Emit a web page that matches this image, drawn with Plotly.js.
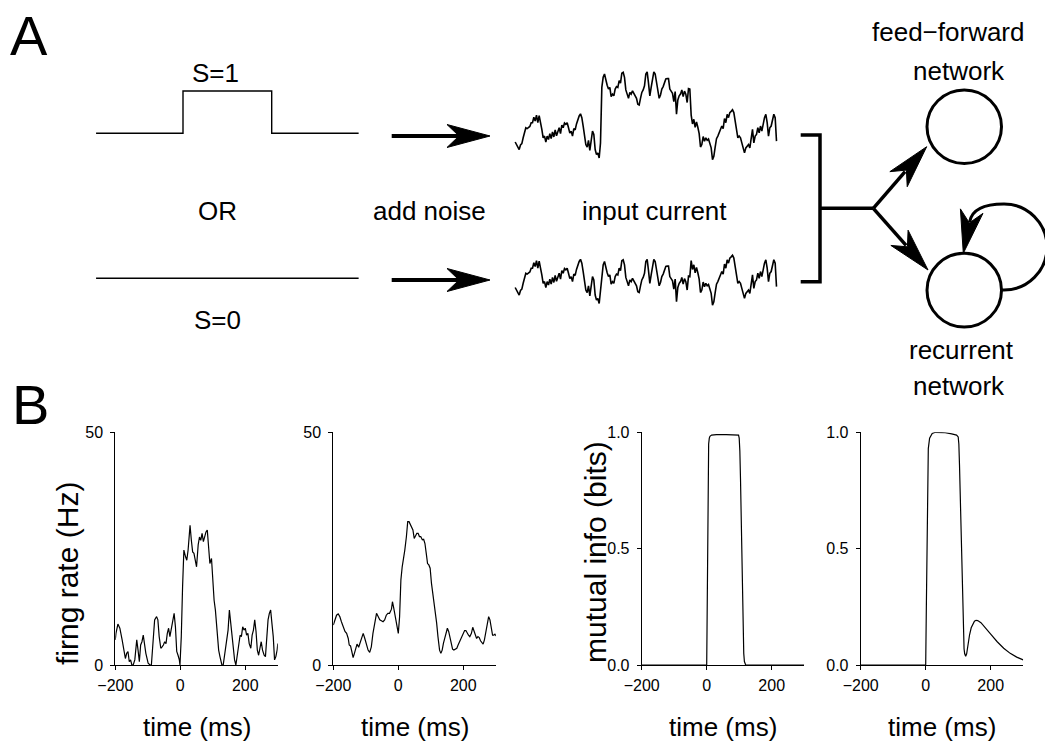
<!DOCTYPE html>
<html>
<head>
<meta charset="utf-8">
<script src="https://cdn.plot.ly/plotly-3.0.1.min.js"></script>
<style>
  html, body { margin: 0; padding: 0; background: #fff; }
  #fig { width: 1045px; height: 751px; }
</style>
</head>
<body>
<div id="fig"></div>
<script>
// ---------- data ----------
// stimulus: S=1 pulse from 0 to 100 ms, or S=0 throughout
const stimTime = [-98, 0, 0, 100, 100, 198];
const stimOn = [0, 0, 1, 1, 0, 0];
const stimOffTime = [-98, 198];
const stimOff = [0, 0];

// noise added to the stimulus (units of the pulse height), one sample every 1.51 ms from -98 ms
const noiseStart = -98;
const noiseStep = 1.51;
const noise = [
  -0.10, -0.16, -0.24, -0.28, -0.17, -0.14, 0.00, 0.14, 0.24, 0.22,
  0.25, 0.27, 0.36, 0.36, 0.49, 0.40, 0.54, 0.36, 0.53, 0.40,
  0.20, 0.00, 0.04, -0.10, 0.04, -0.04, 0.10, -0.02, 0.14, 0.02,
  0.19, 0.05, 0.16, 0.24, 0.10, 0.30, 0.24, 0.35, 0.32, 0.36,
  0.24, 0.11, 0.16, 0.04, 0.22, 0.19, 0.33, 0.44, 0.52, 0.57,
  0.48, 0.28, 0.04, -0.16, -0.22, -0.06, -0.30, 0.00, 0.16, 0.08,
  -0.28, -0.40, -0.36, -0.48, -0.12, 0.20, 0.44, 0.52, 0.36, 0.25,
  0.16, 0.20, -0.02, 0.04, 0.00, 0.16, 0.22, 0.20, 0.36, 0.30,
  0.54, 0.56, 0.44, 0.14, 0.04, -0.06, 0.08, 0.04, 0.12, 0.06,
  0.02, -0.06, -0.20, -0.22, -0.06, 0.08, 0.14, 0.24,
  0.52, 0.57, 0.30, 0.00, 0.20, 0.41, 0.57, 0.52, 0.32, 0.04,
  -0.06, 0.02, 0.16, 0.22, 0.32, 0.40, 0.41, 0.41, 0.16, 0.12,
  0.06, -0.14, 0.10, -0.44, -0.10, 0.00, 0.04, 0.14, -0.02, 0.11,
  0.04, -0.16, 0.17, 0.16, 0.54, 0.33, 0.44, 0.25, 0.38, 0.25,
  0.10, -0.22, -0.16, 0.03, -0.08, 0.00, -0.06, -0.03, -0.16, -0.24,
  -0.52, -0.44, -0.22, -0.02, 0.04, 0.14, 0.20, 0.28, 0.22, 0.46,
  0.36, 0.56, 0.48, 0.60, 0.63, 0.67, 0.60, 0.36, 0.12, 0.00,
  0.04, 0.00, -0.12, -0.24, -0.36, -0.24, -0.20, -0.16, -0.24, 0.04,
  0.20, -0.12, 0.04, 0.08, 0.24, 0.12, 0.28, 0.16, 0.36, 0.48,
  0.56, 0.36, 0.04, 0.24, 0.28, 0.44, 0.56, 0.48, -0.08
];

// firing rate (Hz), feed-forward network
const rateTimeFF = [
  -200, -198, -192, -186, -179, -173, -169, -165, -161, -157,
  -153, -149, -145, -140, -134, -130, -126, -122, -118, -114,
  -110, -106, -99, -93, -89, -85, -79, -73, -69, -65,
  -60, -56, -52, -48, -44, -40, -36, -32, -28, -24,
  -19, -15, -11, -7, -3, -1, 3, 7, 11, 16,
  20, 24, 28, 30, 34, 38, 42, 46, 50, 55,
  59, 63, 67, 71, 75, 79, 83, 87, 91, 96,
  100, 104, 108, 112, 118, 122, 128, 132, 139, 143,
  147, 151, 155, 159, 163, 167, 171, 176, 180, 184,
  188, 192, 196, 200, 204, 208, 212, 217, 221, 225,
  229, 233, 237, 241, 245, 249, 253, 258, 262, 266,
  270, 274, 278, 282, 286, 290, 294, 298, 300
];
const rateFF = [
  5.4, 6.8, 8.8, 7.9, 5.4, 2.9, 1.4, 2.5, 2.9, 0.7,
  1.1, 0, 0, 1.1, 5.4, 3.2, 0.7, 4.3, 5.0, 6.4,
  3.9, 2.5, 0.4, 0, 0, 3.9, 9.7, 10.4, 9.7, 6.1,
  3.6, 3.9, 4.3, 5.0, 4.6, 6.8, 7.9, 6.1, 7.5, 9.7,
  11.1, 8.2, 2.9, 2.1, 1.1, 0, 6.1, 16.8, 24.7, 23.3,
  22.5, 24.7, 28.3, 30.0, 26.8, 24.3, 24.0, 22.2, 21.1, 25.8,
  27.5, 26.8, 28.3, 26.5, 27.9, 28.6, 29.0, 24.3, 21.8, 22.9,
  18.2, 13.9, 11.8, 8.2, 3.2, 1.8, 0, 0, 3.6, 6.4,
  7.5, 11.8, 8.9, 5.4, 2.9, 1.1, 0, 2.1, 4.3, 6.4,
  6.1, 8.2, 7.5, 7.9, 6.4, 6.8, 4.6, 3.6, 6.4, 7.5,
  9.7, 7.2, 3.2, 2.1, 3.6, 5.0, 3.2, 2.1, 1.8, 6.1,
  9.7, 11.1, 11.8, 8.9, 6.1, 1.1, 1.8, 3.2, 4.6
];

// firing rate (Hz), recurrent network
const rateTimeRec = [
  -200, -195, -190, -185, -180, -175, -169, -164, -159, -154,
  -151, -147, -143, -139, -135, -131, -127, -122, -118, -113,
  -108, -103, -98, -93, -88, -83, -78, -72, -67, -62,
  -57, -52, -47, -42, -37, -32, -27, -21, -18, -14,
  -10, -6, 0, 4, 8, 12, 16, 20, 25, 29,
  33, 37, 41, 45, 49, 53, 57, 61, 65, 69,
  74, 78, 82, 86, 90, 94, 98, 102, 106, 110,
  114, 118, 122, 127, 131, 135, 139, 143, 147, 151,
  155, 159, 163, 167, 171, 176, 180, 184, 188, 192,
  196, 200, 204, 208, 212, 216, 220, 225, 229, 233,
  237, 241, 245, 249, 253, 257, 261, 265, 269, 274,
  278, 282, 286, 290, 294, 298, 300
];
const rateRec = [
  8.6, 9.7, 10.7, 11.0, 10.4, 9.3, 8.2, 7.2, 6.8, 5.7,
  4.3, 4.1, 2.9, 1.6, 2.5, 3.4, 4.5, 3.8, 4.7, 5.7,
  6.8, 5.7, 4.5, 3.2, 2.7, 3.9, 6.8, 9.3, 11.1, 10.4,
  9.7, 9.5, 9.3, 9.7, 10.7, 11.1, 11.1, 12.0, 13.6, 12.2,
  10.4, 9.3, 6.8, 10.4, 18.3, 21.1, 22.6, 24.7, 27.6, 30.8,
  30.8, 30.1, 29.7, 29.0, 27.2, 27.9, 28.3, 28.3, 27.6, 27.6,
  26.9, 27.0, 26.1, 24.0, 21.8, 21.5, 20.8, 17.6, 15.4, 14.0,
  11.5, 9.0, 6.1, 3.2, 2.5, 3.2, 4.7, 5.7, 6.8, 7.9,
  7.2, 5.7, 4.3, 3.4, 3.2, 3.4, 3.6, 4.3, 5.0, 5.7,
  6.2, 6.8, 7.4, 7.4, 6.8, 6.4, 6.1, 6.8, 8.1, 7.4,
  6.4, 5.7, 6.1, 5.9, 5.2, 4.8, 4.5, 5.4, 6.8, 9.0,
  10.4, 9.7, 8.1, 6.4, 6.4, 6.7, 6.2
];

// mutual information (bits), feed-forward network
const infoTimeFF = [-200, 0, 1, 2, 3, 4, 5, 6, 8, 10, 15, 30, 60, 90, 98,
  100, 102, 104, 106, 108, 110, 112, 114, 116, 118, 120, 300];
const infoFF = [0, 0, 0.15, 0.4, 0.65, 0.82, 0.91, 0.95, 0.975, 0.983, 0.988, 0.99, 0.99, 0.99, 0.988,
  0.975, 0.92, 0.8, 0.62, 0.42, 0.25, 0.12, 0.05, 0.015, 0.004, 0, 0];

// mutual information (bits), recurrent network
const infoTimeRec = [-200, 0, 2, 4, 6, 8, 12, 20, 30, 60,
  80, 95, 100, 102, 104, 106, 108, 110, 112, 114,
  116, 118, 120, 123, 126, 130, 135, 140, 145, 150,
  155, 160, 170, 180, 190, 200, 220, 240, 260, 280, 300];
const infoRec = [0, 0, 0.25, 0.6, 0.85, 0.93, 0.975, 0.995, 1.0, 0.998,
  0.993, 0.988, 0.98, 0.95, 0.86, 0.74, 0.6, 0.45, 0.31, 0.2,
  0.12, 0.07, 0.048, 0.038, 0.048, 0.09, 0.13, 0.16, 0.178, 0.188,
  0.192, 0.191, 0.182, 0.167, 0.15, 0.133, 0.1, 0.072, 0.05, 0.034, 0.022];

const timeTicks = [-200, 0, 200];
const rateTicks = [0, 50];
const infoTicks = [0, 0.5, 1];
const infoTickText = ['0.0', '0.5', '1.0'];

// ---------- helpers ----------
const W = 1045, H = 751;
const fx = x => x / W;          // pixel -> paper x
const fy = y => 1 - y / H;      // pixel -> paper y
const P = (x, y) => fx(x).toFixed(5) + ',' + fy(y).toFixed(5);

const textFamily = '"Liberation Sans", Arial, Helvetica, sans-serif';
const tickFamily = '"Liberation Sans Narrow", "Arial Narrow", "Liberation Sans", Arial, sans-serif';
const black = '#000';

function hSpan(p0, p1, zeroPx, ppu) {
  return { domain: [fx(p0), fx(p1)], range: [(p0 - zeroPx) / ppu, (p1 - zeroPx) / ppu] };
}
function vSpan(top, bottom, zeroPx, ppu) {
  return { domain: [fy(bottom), fy(top)], range: [(zeroPx - bottom) / ppu, (zeroPx - top) / ppu] };
}
const hidden = { visible: false, showgrid: false, zeroline: false, fixedrange: true };

// value of the stimulus at time t, read from the step arrays
function stimAt(t) {
  let v = stimOn[0];
  for (let i = 0; i < stimTime.length; i++) if (t >= stimTime[i]) v = stimOn[i];
  return v;
}
const noiseTime = noise.map((_, i) => noiseStart + i * noiseStep);
const inputWithPulse = noise.map((n, i) => n + stimAt(noiseTime[i]));

// ---------- traces ----------
const thin = { color: black, width: 1.2 };
const traces = [
  { x: rateTimeFF, y: rateFF, xaxis: 'x', yaxis: 'y', mode: 'lines', line: thin, hoverinfo: 'skip' },
  { x: rateTimeRec, y: rateRec, xaxis: 'x2', yaxis: 'y2', mode: 'lines', line: thin, hoverinfo: 'skip' },
  { x: infoTimeFF, y: infoFF, xaxis: 'x3', yaxis: 'y3', mode: 'lines', line: thin, hoverinfo: 'skip' },
  { x: infoTimeRec, y: infoRec, xaxis: 'x4', yaxis: 'y4', mode: 'lines', line: thin, hoverinfo: 'skip' },
  // stimulus sketches
  { x: stimTime, y: stimOn, xaxis: 'x5', yaxis: 'y5', mode: 'lines', line: { color: black, width: 1.4 }, hoverinfo: 'skip' },
  { x: stimOffTime, y: stimOff, xaxis: 'x5', yaxis: 'y6', mode: 'lines', line: { color: black, width: 1.4 }, hoverinfo: 'skip' },
  // noisy input currents
  { x: noiseTime, y: inputWithPulse, xaxis: 'x7', yaxis: 'y7', mode: 'lines', line: { color: black, width: 1.6 }, hoverinfo: 'skip' },
  { x: noiseTime, y: noise, xaxis: 'x7', yaxis: 'y8', mode: 'lines', line: { color: black, width: 1.6 }, hoverinfo: 'skip' }
];

// ---------- axes of panel B ----------
const plotTop = 432.3, plotBottom = 665, plotWidth = 162.5;
const tickFont = { family: tickFamily, size: 16, color: black };
function timeAxis(left, anchor) {
  return {
    domain: [fx(left), fx(left + plotWidth)], range: [-200, 300], anchor: anchor,
    tickvals: timeTicks, ticks: 'outside', ticklen: 4, tickwidth: 1, tickcolor: black,
    showline: true, linecolor: black, linewidth: 1, showgrid: false, zeroline: false,
    tickfont: tickFont, fixedrange: true, ticklabelstandoff: 2
  };
}
function valueAxis(anchor, range, vals, text) {
  const ax = {
    domain: [fy(plotBottom), fy(plotTop)], range: range, anchor: anchor,
    tickvals: vals, ticks: 'outside', ticklen: 4, tickwidth: 1, tickcolor: black,
    showline: true, linecolor: black, linewidth: 1, showgrid: false, zeroline: false,
    tickfont: tickFont, fixedrange: true, ticklabelstandoff: 4
  };
  if (text) ax.ticktext = text;
  return ax;
}

// ---------- arrows and network sketch ----------
const shapes = [];
function addLine(x0, y0, x1, y1, w) {
  shapes.push({ type: 'line', xref: 'paper', yref: 'paper', x0: fx(x0), y0: fy(y0), x1: fx(x1), y1: fy(y1),
    line: { color: black, width: w } });
}
function addHead(tipX, tipY, fromX, fromY) {
  const len = 43, half = 11.5, notch = 31;
  const d = Math.hypot(tipX - fromX, tipY - fromY);
  const ux = (tipX - fromX) / d, uy = (tipY - fromY) / d;
  const nx = -uy, ny = ux;
  const bx = tipX - ux * len, by = tipY - uy * len;
  const path = 'M ' + P(tipX, tipY) +
    ' L ' + P(bx + nx * half, by + ny * half) +
    ' L ' + P(tipX - ux * notch, tipY - uy * notch) +
    ' L ' + P(bx - nx * half, by - ny * half) + ' Z';
  shapes.push({ type: 'path', xref: 'paper', yref: 'paper', path: path, fillcolor: black,
    line: { color: black, width: 1 } });
  return [tipX - ux * (notch + 2), tipY - uy * (notch + 2)];
}
function addPath(pts, w) {
  shapes.push({ type: 'path', xref: 'paper', yref: 'paper', path: pts, fillcolor: 'rgba(0,0,0,0)',
    line: { color: black, width: w } });
}

// "add noise" arrows
addLine(391.7, 136, 460, 136, 4);
addHead(490, 136, 391.7, 136);
addLine(391.7, 280, 460, 280, 4);
addHead(490, 280, 391.7, 280);

// bracket joining both inputs
addPath('M ' + P(800.7, 135) + ' L ' + P(820, 135) + ' L ' + P(820, 281.7) + ' L ' + P(800.7, 281.7), 3.5);
addLine(820, 208.3, 873.3, 208.3, 3.5);

// branches to the two networks
let e = addHead(926.7, 146.7, 873.3, 208.3);
addLine(873.3, 208.3, e[0], e[1], 3.5);
e = addHead(928, 270, 873.3, 208.3);
addLine(873.3, 208.3, e[0], e[1], 3.5);

// network nodes
shapes.push({ type: 'circle', xref: 'paper', yref: 'paper', x0: fx(927), x1: fx(1001.5), y0: fy(163.5), y1: fy(90),
  line: { color: black, width: 3 }, fillcolor: 'rgba(0,0,0,0)' });
shapes.push({ type: 'circle', xref: 'paper', yref: 'paper', x0: fx(927), x1: fx(1001.5), y0: fy(327), y1: fy(253.3),
  line: { color: black, width: 3 }, fillcolor: 'rgba(0,0,0,0)' });

// recurrent self-loop
addPath('M ' + P(1000, 290) + ' L ' + P(1004, 290) +
  ' C ' + P(1027.75, 290) + ' ' + P(1047, 270.75) + ' ' + P(1047, 247) +
  ' C ' + P(1047, 223.25) + ' ' + P(1027.75, 204) + ' ' + P(1004, 204) +
  ' C ' + P(988, 204) + ' ' + P(972, 208) + ' ' + P(969.6, 222), 3);
addHead(963.3, 253.3, 971.5, 212);

// ---------- text ----------
function label(text, x, y, size, extra) {
  return Object.assign({ text: text, x: fx(x), y: fy(y), xref: 'paper', yref: 'paper', showarrow: false,
    xanchor: 'center', yanchor: 'middle', font: { family: textFamily, size: size, color: black } }, extra || {});
}
const annotations = [
  label('A', 29, 35, 56),
  label('B', 30, 405, 56),
  label('S=1', 215.5, 73, 26),
  label('OR', 217, 211, 26),
  label('S=0', 217, 320, 26),
  label('add noise', 429, 211, 26),
  label('input current', 654, 211, 26),
  label('feed\u2212forward', 948, 32, 26),
  label('network', 959, 71, 26),
  label('recurrent', 961, 350, 26),
  label('network', 959, 386, 26),
  label('time (ms)', 115.3 + plotWidth / 2, 727, 26),
  label('time (ms)', 333.3 + plotWidth / 2, 727, 26),
  label('time (ms)', 641.7 + plotWidth / 2, 727, 26),
  label('time (ms)', 860.7 + plotWidth / 2, 727, 26),
  label('firng rate (Hz)', 67, 574, 30, { textangle: -90 }),
  label('mutual info (bits)', 595, 552, 30, { textangle: -90 })
];

const layout = {
  width: W, height: H,
  margin: { l: 0, r: 0, t: 0, b: 0, pad: 0 },
  paper_bgcolor: '#fff', plot_bgcolor: 'rgba(0,0,0,0)',
  showlegend: false,
  xaxis: timeAxis(115.3, 'y'),
  xaxis2: timeAxis(333.3, 'y2'),
  xaxis3: timeAxis(641.7, 'y3'),
  xaxis4: timeAxis(860.7, 'y4'),
  yaxis: valueAxis('x', [0, 50], rateTicks),
  yaxis2: valueAxis('x2', [0, 50], rateTicks),
  yaxis3: valueAxis('x3', [0, 1], infoTicks, infoTickText),
  yaxis4: valueAxis('x4', [0, 1], infoTicks, infoTickText),
  xaxis5: Object.assign({ anchor: 'y5' }, hidden, hSpan(90, 365, 183, 0.887)),
  yaxis5: Object.assign({ anchor: 'x5' }, hidden, vSpan(80, 145, 133.3, 42.3)),
  yaxis6: Object.assign({ anchor: 'x5' }, hidden, vSpan(260, 300, 278.3, 42.3)),
  xaxis7: Object.assign({ anchor: 'y7' }, hidden, hSpan(505, 790, 601.7, 0.883)),
  yaxis7: Object.assign({ anchor: 'x7' }, hidden, vSpan(55, 175, 137.8, 42)),
  yaxis8: Object.assign({ anchor: 'x7' }, hidden, vSpan(240, 320, 283.3, 42)),
  shapes: shapes,
  annotations: annotations
};

Plotly.newPlot('fig', traces, layout, { staticPlot: true, displayModeBar: false });
</script>
</body>
</html>
